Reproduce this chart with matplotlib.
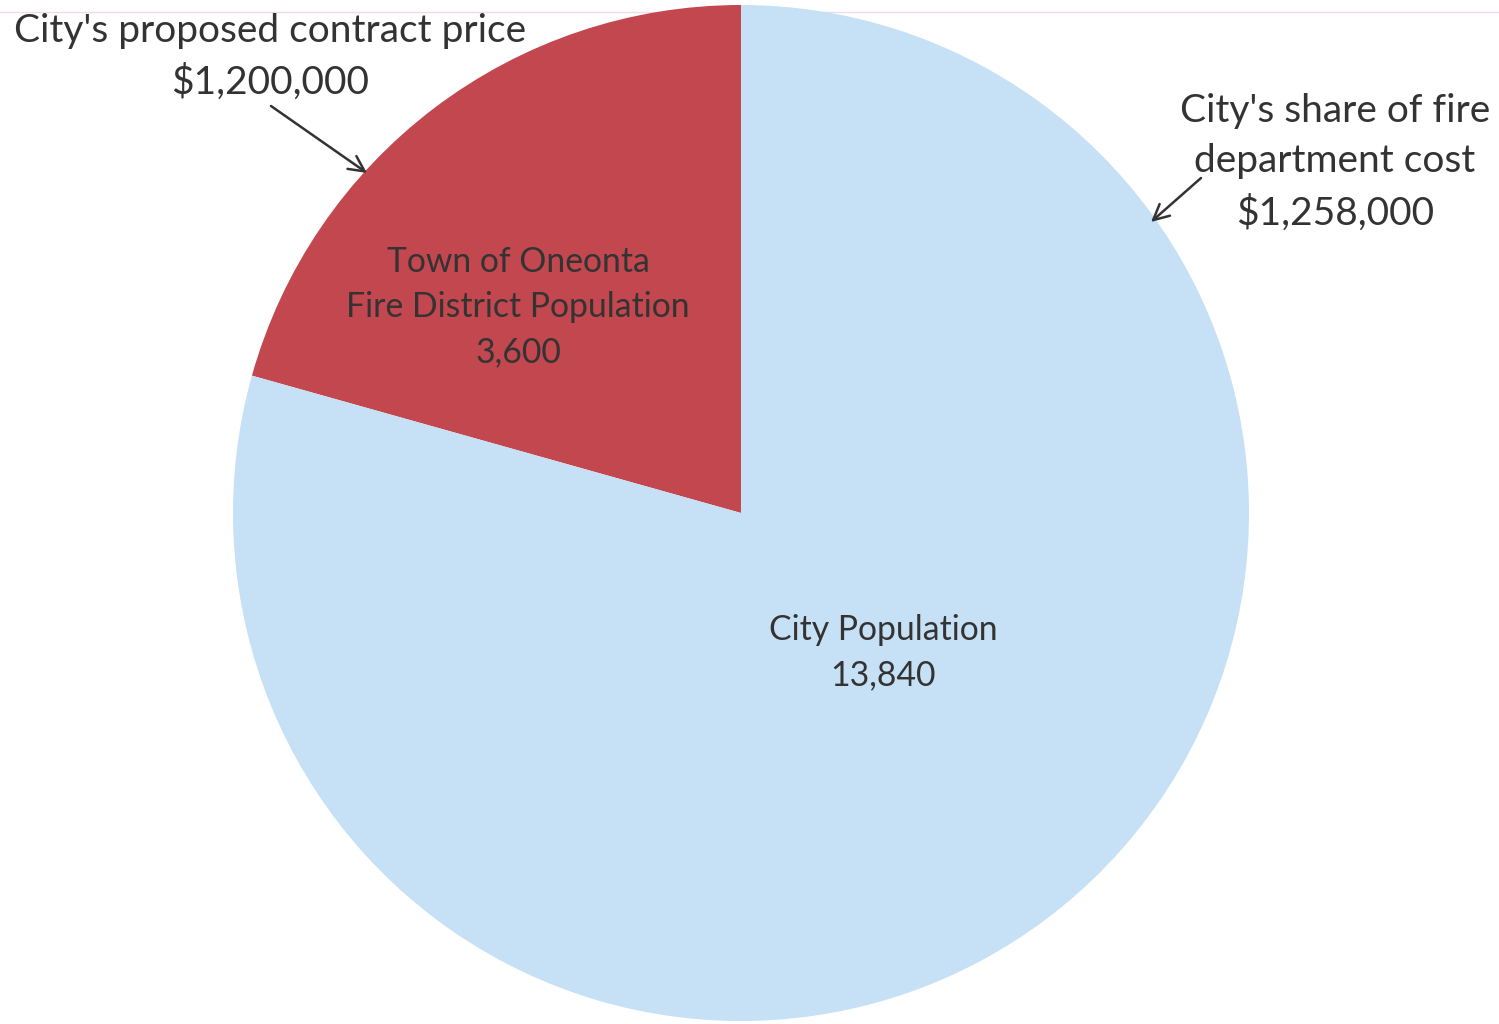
import matplotlib
matplotlib.use("Agg")
import matplotlib.pyplot as plt

categories = ["Town of Oneonta\nFire District Population", "City Population"]
populations = [3600, 13840]
colors = ["#C2474F", "#C6E0F6"]
cost_labels = ["City's proposed contract price\n$1,200,000",
               "City's share of fire\ndepartment cost\n$1,258,000"]

W, H = 1499, 1024
fig = plt.figure(figsize=(W / 100, H / 100), dpi=100)
ax = fig.add_axes([0, 0, 1, 1])

plt.rcParams["font.family"] = ["Lato", "DejaVu Sans"]
txtc = "#333333"

# faint scan line at the top
ax.axhline(H - 12, color="#EBDDEB", lw=1, zorder=0)

cx, cy, r = 741, H - 513, 508
wedges, _ = ax.pie(populations, colors=colors, startangle=90, counterclock=True,
                   center=(cx, cy), radius=r, frame=True,
                   wedgeprops=dict(linewidth=0))
ax.set_xlim(0, W)
ax.set_ylim(0, H)
ax.set_aspect("equal")
ax.axis("off")

# slice labels
ax.text(518, H - 307, f"{categories[0]}\n{populations[0]:,}", ha="center", va="center",
        fontsize=24.3, color=txtc, linespacing=1.5)
ax.text(883, H - 653, f"{categories[1]}\n{populations[1]:,}", ha="center", va="center",
        fontsize=24.3, color=txtc, linespacing=1.5)

# annotations
ax.text(270, H - 57, cost_labels[0], ha="center", va="center",
        fontsize=28, color=txtc, linespacing=1.5)
ax.text(1335, H - 162, cost_labels[1], ha="center", va="center",
        fontsize=28, color=txtc, linespacing=1.5)

arrow_kw = dict(arrowstyle="->", color=txtc, lw=1.8, mutation_scale=28,
                shrinkA=0, shrinkB=0)
ax.annotate("", xy=(367, H - 173), xytext=(271, H - 106), arrowprops=arrow_kw)
ax.annotate("", xy=(1151, H - 222), xytext=(1201, H - 178), arrowprops=arrow_kw)

fig.savefig("out.png", dpi=100, facecolor="white")
